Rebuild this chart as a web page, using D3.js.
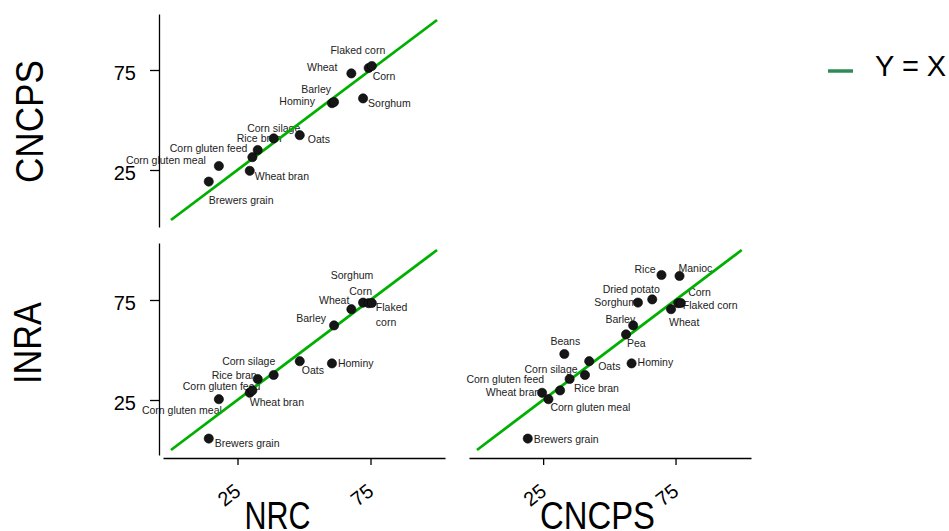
<!DOCTYPE html>
<html><head><meta charset="utf-8">
<script src="https://cdn.jsdelivr.net/npm/d3@7"></script>
<style>
body{margin:0;background:#fff}
svg{display:block}
text{font-family:"Liberation Sans",Arial,Helvetica,sans-serif}
</style>
</head><body>
<svg id="c" width="949" height="531"></svg>
<script>
// ---------------- data ----------------
const feeds = ["Brewers grain","Corn gluten meal","Wheat bran","Corn gluten feed","Corn silage",
  "Rice bran","Oats","Hominy","Barley","Sorghum","Wheat","Corn","Flaked corn",
  "Rice","Manioc","Dried potato","Pea","Beans"];
const nrc   = [14.2, 18.0, 29.6, 30.6, 32.6, 38.6, 48.4, 60.5, 61.3, 72.2, 67.8, 74.3, 75.5, null, null, null, null, null];
const cncps = [19.2, 27.0, 24.6, 31.4, 35.0, 40.8, 42.4, 58.4, 59.0, 60.8, 73.3, 76.0, 77.0, 69.7, 76.5, 66.2, 56.3, 33.0];
const inra  = [ 5.7, 25.4, 28.6, 29.8, 35.5, 37.5, 44.4, 43.3, 62.3, 73.7, 70.4, 73.4, 73.5, 87.5, 87.0, 75.3, 57.8, 48.0];
const tickValues = [25, 75];
const identityLine = [0, 100];
const legendLabel = "Y = X";

// ---------------- label placement (style/layout) ----------------
// [anchor, dx, dy, optional text with | for line break]
const placeTop = {
  "Flaked corn":["middle",-14,-12],"Corn":["start",4,12],"Wheat":["end",-14,-2],
  "Sorghum":["start",5,9],"Barley":["end",-3,-9],"Hominy":["end",-17,2],
  "Oats":["start",8,8],"Rice bran":["end",8,4],"Corn silage":["middle",16,-18],
  "Corn gluten feed":["end",-5,-5],"Corn gluten meal":["end",-13,-2],
  "Wheat bran":["start",5,9],"Brewers grain":["start",0,22]
};
const placeBL = {
  "Sorghum":["middle",-11,-24],"Corn":["middle",-8,-8],"Wheat":["end",-2,-5],
  "Flaked corn":["start",4,8,"Flaked|corn"],"Barley":["end",-8,-3],
  "Corn silage":["middle",-9,-14],"Rice bran":["end",-17,4],
  "Corn gluten feed":["end",8,0],"Wheat bran":["start",0,13],
  "Oats":["start",2,13],"Hominy":["start",6,4],"Corn gluten meal":["end",3,15],
  "Brewers grain":["start",6,8]
};
const placeBR = {
  "Rice":["end",-6,-2],"Manioc":["start",-1,-4],"Dried potato":["middle",-21,-6],
  "Sorghum":["end",-1,3],"Corn":["start",10,-7],"Flaked corn":["start",2,6],
  "Wheat":["start",-2,17],"Barley":["end",2,-2],"Pea":["start",1,13],
  "Beans":["middle",1,-9],"Hominy":["start",6,3],"Oats":["start",9,9],
  "Rice bran":["start",-11,17],"Corn silage":["end",8,-6],
  "Corn gluten feed":["end",-16,-7],"Wheat bran":["end",-2,3],
  "Corn gluten meal":["start",2,12],"Brewers grain":["start",6,4]
};

// ---------------- scales ----------------
const svg = d3.select("#c");
const xNRC   = d3.scaleLinear().domain([-3, 103]).range([163, 445]);
const xCNCPS = d3.scaleLinear().domain([-3, 103.5]).range([469, 751]);
const yTop   = d3.scaleLinear().domain([-3.5, 103]).range([227, 14]);
const yBot   = d3.scaleLinear().domain([-2.5, 103.5]).range([455, 243]);

const GREEN = "#00b000";

function panel(xs, ys, xv, yv, place){
  const g = svg.append("g");
  const pts = feeds.map((f,i)=>({name:f, x:xv[i], y:yv[i]})).filter(d=>d.x!=null && d.y!=null);
  const lab = g.append("g").selectAll("text").data(pts).join("text")
    .attr("x", d=>xs(d.x) + place[d.name][1])
    .attr("y", d=>ys(d.y) + place[d.name][2])
    .attr("text-anchor", d=>place[d.name][0])
    .attr("font-size", 10.5)
    .attr("fill", "#222");
  lab.each(function(d){
    const t = (place[d.name][3] || d.name).split("|");
    const sel = d3.select(this);
    t.forEach((s,k)=>{
      sel.append("tspan").attr("x", xs(d.x)+place[d.name][1]).attr("dy", k===0?0:14.5).text(s);
    });
  });
  g.append("line")
    .attr("x1", xs(identityLine[0])).attr("y1", ys(identityLine[0]))
    .attr("x2", xs(identityLine[1])).attr("y2", ys(identityLine[1]))
    .attr("stroke", GREEN).attr("stroke-width", 2.8);
  g.append("g").selectAll("circle").data(pts).join("circle")
    .attr("cx", d=>xs(d.x)).attr("cy", d=>ys(d.y)).attr("r", 4.6)
    .attr("fill", "#161616").attr("stroke", "#000").attr("stroke-width", 0.6);
}

panel(xNRC, yTop, nrc, cncps, placeTop);
panel(xNRC, yBot, nrc, inra, placeBL);
panel(xCNCPS, yBot, cncps, inra, placeBR);

// ---------------- axes ----------------
function styleAxis(a){
  a.select(".domain").attr("stroke","#000").attr("stroke-width",1.3);
  a.selectAll(".tick line").attr("stroke","#000").attr("stroke-width",1.3);
  a.selectAll(".tick text").attr("fill","#000").attr("font-size",20)
    .attr("font-family","'Liberation Sans',Arial,sans-serif");
}
function yAxis(ys){
  const a = svg.append("g").attr("transform","translate(159,0)")
    .call(d3.axisLeft(ys).tickValues(tickValues).tickSize(9).tickSizeOuter(0).tickPadding(14));
  styleAxis(a);
  a.selectAll(".tick text").attr("dy","0.45em");
}
function xAxis(xs){
  const a = svg.append("g").attr("transform","translate(0,458)")
    .call(d3.axisBottom(xs).tickValues(tickValues).tickSize(7).tickSizeOuter(0));
  styleAxis(a);
  a.selectAll(".tick text").attr("y",0).attr("dy","0.35em").attr("text-anchor","middle")
    .attr("transform","translate(-9,37) rotate(-38)");
}
yAxis(yTop);
yAxis(yBot);
xAxis(xNRC);
xAxis(xCNCPS);

// ---------------- axis titles ----------------
const titleSize = 38;
function title(txt, x, y, rot, len){
  svg.append("text").text(txt)
    .attr("transform", `translate(${x},${y}) rotate(${rot})`)
    .attr("text-anchor","middle").attr("font-size",titleSize).attr("fill","#000")
    .attr("textLength", len).attr("lengthAdjust","spacingAndGlyphs");
}
title("CNCPS", 43, 121.5, -90, 123);
title("INRA", 41, 343, -90, 82);
title("NRC", 277.5, 529, 0, 66);
title("CNCPS", 597.5, 529, 0, 115);

// ---------------- legend ----------------
const leg = svg.append("g").attr("transform","translate(828,71)");
leg.append("line").attr("x1",0).attr("x2",25).attr("y1",0).attr("y2",0)
  .attr("stroke","#2e8b57").attr("stroke-width",3.5);
leg.append("text").attr("x",47).attr("y",5).attr("font-size",29).attr("fill","#000").text(legendLabel);
</script>
</body></html>
